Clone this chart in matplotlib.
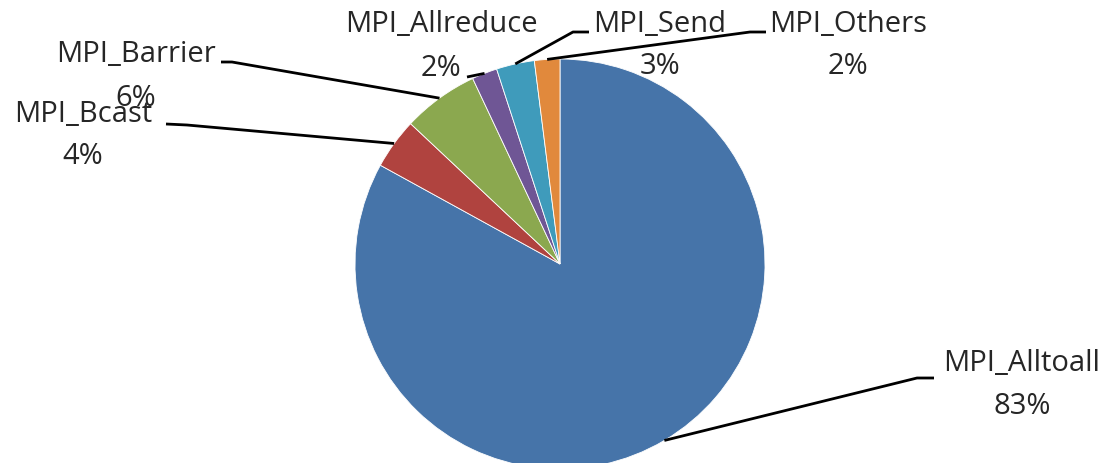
import matplotlib
matplotlib.use("Agg")
import matplotlib.pyplot as plt
import numpy as np

# share of MPI time per call
names = ["MPI_Alltoall", "MPI_Bcast", "MPI_Barrier", "MPI_Allreduce", "MPI_Send", "MPI_Others"]
shares = [83, 4, 6, 2, 3, 2]
colors = ["#4674A9", "#B0433F", "#8BA84F", "#6F5695", "#3F9BBB", "#E1893C"]

# label placement in pixels: (text x, name y, pct y) and leader elbow points
label_pos = {
    "MPI_Alltoall": (1022, 364, 407),
    "MPI_Bcast": (83, 115, 157),
    "MPI_Barrier": (136, 54, 98),
    "MPI_Allreduce": (441, 24, 69),
    "MPI_Send": (660, 24, 67),
    "MPI_Others": (848, 24, 67),
}
elbows = {
    "MPI_Alltoall": [(917, 379), (934, 379)],
    "MPI_Bcast": [(187, 126), (166, 125)],
    "MPI_Barrier": [(232, 63), (221, 63)],
    "MPI_Allreduce": [(467, 78)],
    "MPI_Send": [(573, 33), (589, 33)],
    "MPI_Others": [(750, 33), (766, 33)],
}

plt.rcParams["font.family"] = ["Open Sans", "DejaVu Sans"]

W, H = 1111, 464
fig = plt.figure(figsize=(W / 100, H / 100), dpi=100)
ax = fig.add_axes([0, 0, 1, 1])

cx, cy, r = 560, 265, 205
wedges, _ = ax.pie(shares, colors=colors, center=(cx, cy), radius=r,
                   startangle=270, counterclock=True,
                   wedgeprops=dict(edgecolor="white", linewidth=0.6))

ax.set_xlim(0, W)
ax.set_ylim(H, 0)
ax.set_aspect("equal")
ax.axis("off")

for w, name, val in zip(wedges, names, shares):
    mid = np.deg2rad((w.theta1 + w.theta2) / 2)
    ax_pt = (cx + r * np.cos(mid), cy + r * np.sin(mid))
    pts = [ax_pt] + elbows[name]
    xs, ys = zip(*pts)
    ax.plot(xs, ys, color="black", lw=2, solid_capstyle="butt", clip_on=False)
    tx, ny, py = label_pos[name]
    ax.text(tx, ny, name, ha="center", va="center", fontsize=21, color="#262626")
    ax.text(tx, py, f"{val}%", ha="center", va="center", fontsize=21, color="#262626")

fig.savefig("out.png", dpi=100)
